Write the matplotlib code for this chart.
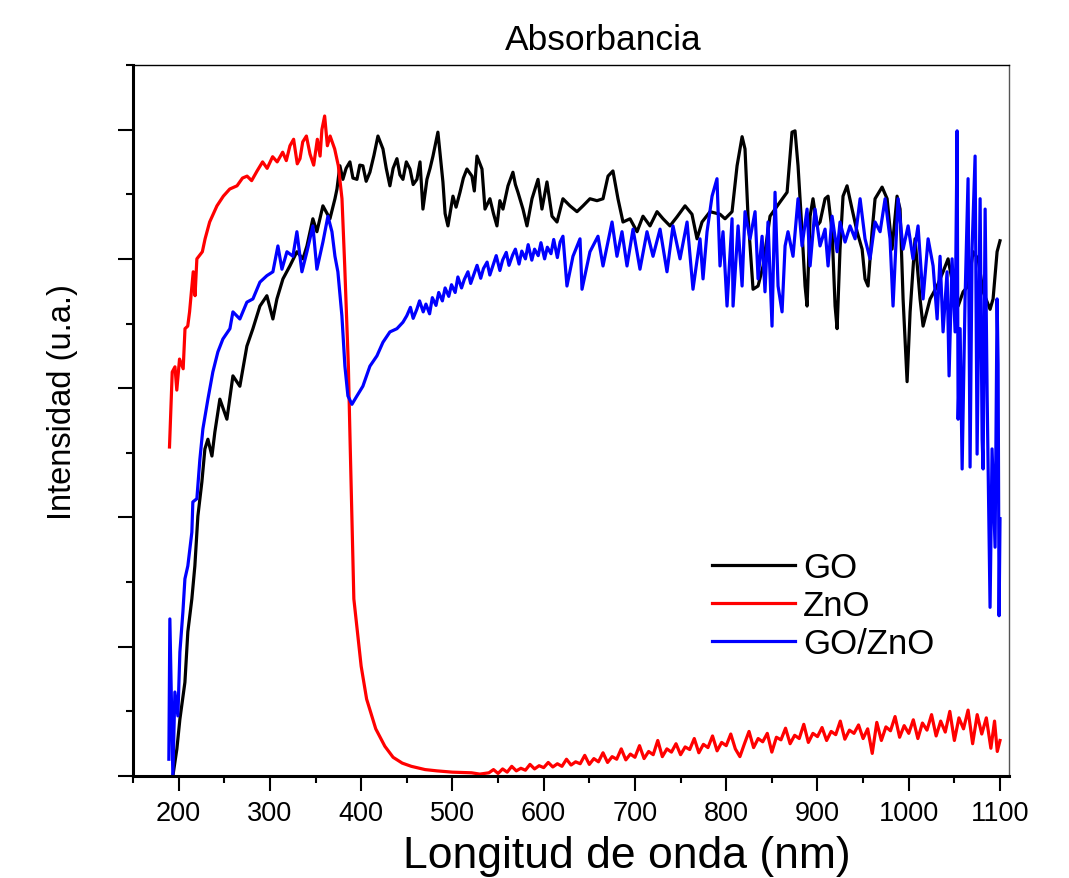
import matplotlib
matplotlib.use('Agg')
import matplotlib.pyplot as plt
from matplotlib.ticker import MultipleLocator

plt.rcParams['font.family'] = ['Liberation Sans', 'DejaVu Sans']

# espectros (nm, intensidad normalizada)
go_nm = [193.7, 198.1, 201.4, 206.9, 210.1, 214.5, 217.8, 221.1, 225.5, 228.8, 232.1, 236.5, 239.7, 245.2,
         252.9, 259.5, 267.1, 274.8, 281.4, 289.1, 296.7, 303.3, 307.7, 314.3, 321.9, 329.6, 336.2, 340.6,
         347.1, 351.5, 358.1, 365.8, 371.3, 373.5, 376.7, 380.0, 383.5, 387.7, 391.0, 395.4, 398.5, 401.9,
         405.5, 409.6, 414.0, 418.4, 423.9, 427.5, 431.5, 435.0, 439.2, 442.5, 445.8, 449.5, 453.5, 457.0,
         461.1, 464.5, 467.7, 472.1, 475.5, 478.7, 484.1, 489.6, 492.0, 495.1, 500.6, 504.0, 508.3, 512.0,
         515.9, 521.4, 524.0, 526.9, 532.4, 535.7, 541.1, 545.0, 548.8, 552.0, 555.4, 560.9, 566.3, 569.0,
         571.8, 577.3, 581.7, 587.2, 593.8, 598.1, 603.6, 609.1, 614.6, 621.1, 628.8, 636.5, 643.1, 650.7,
         658.4, 665.0, 670.5, 675.9, 681.4, 686.9, 694.6, 702.3, 708.8, 716.5, 724.2, 730.8, 738.4, 746.1,
         754.9, 762.5, 768.0, 773.5, 782.3, 793.2, 798.7, 806.4, 811.9, 817.4, 820.6, 823.9, 829.4, 834.9,
         840.4, 848.0, 859.0, 866.7, 872.1, 875.4, 878.7, 883.1, 886.4, 888.6, 891.9, 895.1, 899.5, 902.8,
         908.3, 911.6, 916.0, 919.3, 921.5, 924.7, 928.0, 932.4, 937.9, 943.4, 948.9, 952.1, 955.4, 959.8,
         963.1, 970.8, 976.3, 981.7, 987.2, 990.5, 993.8, 998.2, 1001.5, 1006.9, 1012.4, 1015.7, 1023.4,
         1031.1, 1037.6, 1043.1, 1048.6, 1054.1, 1059.6, 1065.0, 1070.5, 1076.0, 1081.5, 1089.1, 1092.4,
         1096.8, 1100.0]
go_int = [0.000, 0.042, 0.088, 0.145, 0.223, 0.274, 0.325, 0.402, 0.455, 0.506, 0.521, 0.495, 0.532, 0.583,
          0.552, 0.619, 0.603, 0.665, 0.692, 0.727, 0.743, 0.707, 0.738, 0.769, 0.789, 0.811, 0.800, 0.820,
          0.862, 0.842, 0.882, 0.862, 0.893, 0.908, 0.944, 0.923, 0.940, 0.950, 0.925, 0.923, 0.945, 0.944,
          0.920, 0.934, 0.960, 0.990, 0.970, 0.940, 0.913, 0.940, 0.955, 0.930, 0.923, 0.950, 0.939, 0.915,
          0.923, 0.950, 0.877, 0.923, 0.940, 0.959, 0.996, 0.919, 0.870, 0.851, 0.897, 0.880, 0.903, 0.925,
          0.939, 0.928, 0.905, 0.959, 0.939, 0.877, 0.893, 0.870, 0.851, 0.890, 0.877, 0.913, 0.934, 0.915,
          0.903, 0.877, 0.851, 0.893, 0.923, 0.877, 0.919, 0.866, 0.857, 0.893, 0.882, 0.873, 0.882, 0.893,
          0.890, 0.893, 0.928, 0.936, 0.893, 0.857, 0.862, 0.842, 0.866, 0.851, 0.873, 0.862, 0.851, 0.865,
          0.882, 0.869, 0.831, 0.857, 0.873, 0.869, 0.862, 0.873, 0.944, 0.989, 0.970, 0.866, 0.753, 0.758,
          0.789, 0.866, 0.888, 0.903, 0.996, 0.998, 0.944, 0.842, 0.758, 0.727, 0.866, 0.893, 0.851, 0.857,
          0.893, 0.897, 0.842, 0.727, 0.692, 0.815, 0.897, 0.913, 0.877, 0.842, 0.815, 0.769, 0.758, 0.842,
          0.893, 0.911, 0.893, 0.815, 0.897, 0.877, 0.738, 0.610, 0.718, 0.831, 0.738, 0.696, 0.738,
          0.758, 0.780, 0.800, 0.758, 0.727, 0.749, 0.758, 0.811, 0.800, 0.749, 0.722, 0.738,
          0.811, 0.828]

zno_nm = [190, 193, 196, 198, 201, 205, 207, 210, 212, 216, 218, 220, 226, 229, 234, 242, 249, 256, 264,
          270, 275, 280, 286, 292, 297, 303, 308, 314, 318, 322, 326, 330, 333, 336, 340, 344, 348, 352,
          355, 357, 360, 363, 366, 371, 375, 379, 382, 386, 388, 392, 400, 406, 416, 426, 435, 445, 455,
          470, 483, 500, 521, 530,
          540, 545, 550, 555, 560, 565, 570, 575, 580, 585, 590, 595, 600, 605, 610, 615, 620, 625, 630,
          635, 640, 645, 650, 655, 660, 665, 670, 675, 680, 685, 690, 695, 700, 705, 710, 715, 720, 725,
          730, 735, 740, 745, 750, 755, 760, 765, 770, 775, 780, 785, 790, 795, 800, 805, 810, 815, 820,
          825, 830, 835, 840, 845, 850, 855, 860, 865, 870, 875, 880, 885, 890, 895, 900, 905, 910, 915,
          920, 925, 930, 935, 940, 945, 950, 955, 960, 965, 970, 975, 980, 985, 990, 995, 1000, 1005,
          1010, 1015, 1020, 1025, 1030, 1035, 1040, 1045, 1050, 1055, 1060, 1065, 1070, 1075, 1080, 1085,
          1090, 1094, 1097, 1100]
zno_int = [0.509, 0.625, 0.633, 0.597, 0.645, 0.630, 0.692, 0.696, 0.718, 0.780, 0.743, 0.800, 0.811, 0.831,
           0.857, 0.882, 0.897, 0.908, 0.913, 0.925, 0.928, 0.921, 0.936, 0.950, 0.940, 0.958, 0.950, 0.965,
           0.952, 0.975, 0.985, 0.947, 0.955, 0.981, 0.990, 0.962, 0.945, 0.985, 0.959, 1.000, 1.021, 0.975,
           0.990, 0.970, 0.944, 0.893, 0.789, 0.634, 0.511, 0.274, 0.170, 0.119, 0.073, 0.046, 0.029, 0.020,
           0.015, 0.010, 0.008, 0.006, 0.005, 0.003,
           0.005, 0.010, 0.004, 0.011, 0.006, 0.015, 0.008, 0.012, 0.009, 0.018, 0.011, 0.016, 0.013, 0.021,
           0.014, 0.019, 0.015, 0.026, 0.017, 0.022, 0.019, 0.032, 0.018, 0.027, 0.022, 0.036, 0.021, 0.030,
           0.026, 0.042, 0.025, 0.034, 0.029, 0.047, 0.027, 0.038, 0.033, 0.055, 0.030, 0.042, 0.037, 0.050,
           0.033, 0.045, 0.041, 0.058, 0.036, 0.049, 0.044, 0.062, 0.039, 0.052, 0.047, 0.065, 0.042, 0.030,
           0.050, 0.069, 0.044, 0.058, 0.053, 0.066, 0.037, 0.060, 0.056, 0.074, 0.050, 0.063, 0.058, 0.080,
           0.052, 0.066, 0.061, 0.075, 0.055, 0.069, 0.064, 0.085, 0.057, 0.071, 0.066, 0.079, 0.058, 0.073,
           0.035, 0.083, 0.055, 0.076, 0.070, 0.092, 0.060, 0.078, 0.066, 0.087, 0.058, 0.082, 0.071, 0.095,
           0.062, 0.085, 0.068, 0.100, 0.055, 0.090, 0.073, 0.102, 0.050, 0.095, 0.065, 0.090, 0.043, 0.085,
           0.038, 0.055]

gozno_nm = [189.3, 190.4, 193.7, 195.9, 199.2, 201.4, 204.7, 206.9, 210.1, 214.5, 215.6, 220.0, 223.3,
            226.6, 232.1, 237.5, 243.0, 248.5, 256.2, 259.5, 267.1, 274.8, 281.4, 289.1, 296.7, 303.3,
            308.8, 313.2, 318.7, 325.2, 329.6, 335.1, 340.6, 347.1, 351.5, 358.1, 363.6, 368.0, 371.3,
            374.5, 378.9, 382.2, 385.5, 389.9, 395.4, 401.9, 409.6, 417.3, 423.9, 431.5, 439.2, 445.8,
            450.0, 454.0, 457.0, 461.0, 464.0, 468.0, 471.0, 475.0, 478.0, 482.0, 485.0, 489.0, 492.0,
            496.0, 499.0, 503.0, 506.0, 510.0, 513.0, 517.0, 520.0, 524.0, 527.0, 531.0, 534.0, 538.0,
            541.0, 545.0, 548.0, 552.0, 555.0, 559.0, 562.0, 566.0, 569.0, 573.0, 576.0, 580.0, 583.0,
            587.0, 590.0, 594.0, 597.0, 601.0, 604.0, 608.0, 611.0, 615.0, 618.0,
            621.1, 625.5, 632.1, 639.8, 642.0, 650.7, 659.5, 665.0,
            674.9, 680.3, 685.8, 691.3, 697.9, 705.5, 713.2, 719.8, 727.5, 735.1, 741.7, 749.4, 757.1,
            763.6, 771.3, 774.6, 779.0, 784.5, 789.9, 793.2, 796.5, 800.9, 806.4, 807.5, 813.0, 817.4,
            820.6, 826.1, 831.6, 834.9, 839.3, 842.5, 845.8, 850.2, 853.5, 856.8, 861.2, 864.5, 867.7,
            873.2, 878.7, 883.1, 888.6, 891.9, 897.3, 902.8, 908.3, 911.6, 916.0, 921.5, 924.7, 930.2,
            935.7, 941.2, 946.7, 952.1, 957.6, 963.1, 968.6, 974.1, 979.5, 982.8, 988.3, 993.8, 999.3,
            1004.7, 1010.2, 1015.7, 1021.2, 1026.7, 1031.1, 1034.3, 1037.6, 1042.0, 1044.2, 1047.5,
            1050.8, 1053.0, 1054.1, 1056.3, 1058.5, 1061.7, 1065.0, 1067.2, 1069.4, 1072.7, 1074.9,
            1078.2, 1080.4, 1081.5, 1083.7, 1085.9, 1089.1, 1091.3, 1094.6, 1096.8, 1097.9, 1099.0, 1100.0]
gozno_int = [0.026, 0.243, 0.000, 0.130, 0.093, 0.192, 0.254, 0.305, 0.325, 0.377, 0.424, 0.429, 0.490,
             0.537, 0.583, 0.625, 0.656, 0.676, 0.692, 0.718, 0.707, 0.733, 0.738, 0.764, 0.774, 0.780,
             0.820, 0.784, 0.811, 0.804, 0.842, 0.780, 0.811, 0.851, 0.784, 0.826, 0.866, 0.842, 0.804,
             0.780, 0.712, 0.634, 0.588, 0.575, 0.588, 0.603, 0.634, 0.650, 0.671, 0.687, 0.692, 0.702,
             0.712, 0.725, 0.708, 0.722, 0.735, 0.718, 0.730, 0.715, 0.740, 0.728, 0.748, 0.735, 0.755,
             0.742, 0.760, 0.748, 0.772, 0.755, 0.768, 0.780, 0.762, 0.778, 0.790, 0.770, 0.785, 0.795,
             0.775, 0.792, 0.805, 0.782, 0.798, 0.810, 0.790, 0.806, 0.815, 0.792, 0.812, 0.800, 0.822,
             0.798, 0.815, 0.805, 0.825, 0.800, 0.818, 0.808, 0.830, 0.802, 0.826,
             0.835, 0.758, 0.804, 0.831, 0.753, 0.811, 0.835, 0.789,
             0.857, 0.804, 0.842, 0.789, 0.846, 0.784, 0.842, 0.804, 0.846, 0.780, 0.851, 0.800, 0.857,
             0.753, 0.831, 0.769, 0.842, 0.897, 0.924, 0.789, 0.842, 0.727, 0.862, 0.727, 0.851, 0.758,
             0.873, 0.831, 0.873, 0.769, 0.835, 0.749, 0.857, 0.696, 0.903, 0.758, 0.718, 0.820, 0.842,
             0.804, 0.893, 0.820, 0.877, 0.789, 0.877, 0.820, 0.846, 0.789, 0.866, 0.811, 0.857, 0.826,
             0.851, 0.831, 0.893, 0.831, 0.800, 0.857, 0.842, 0.893, 0.831, 0.727, 0.893, 0.815, 0.851,
             0.800, 0.851, 0.738, 0.831, 0.789, 0.707, 0.804, 0.687, 0.780, 0.619, 0.800,
             0.687, 0.998, 0.552, 0.692, 0.475, 0.738, 0.924, 0.478, 0.815, 0.959, 0.498,
             0.893, 0.521, 0.475, 0.877, 0.588, 0.261, 0.506, 0.354, 0.738, 0.637, 0.248, 0.398]

fig = plt.figure(figsize=(10.69, 8.79), dpi=100)
ax = fig.add_axes([0.1244, 0.116, 0.8196, 0.809])

ax.plot(go_nm, go_int, color='black', lw=2.3, label='GO')
ax.plot(zno_nm, zno_int, color='#ff0000', lw=2.3, label='ZnO')
ax.plot(gozno_nm, gozno_int, color='#0000ff', lw=2.3, label='GO/ZnO')

ax.set_xlim(150, 1110)
ax.set_ylim(0, 1.1)
ax.xaxis.set_major_locator(MultipleLocator(100))
ax.xaxis.set_minor_locator(MultipleLocator(50))
ax.yaxis.set_major_locator(MultipleLocator(0.2))
ax.yaxis.set_minor_locator(MultipleLocator(0.1))
ax.set_yticklabels([])
ax.tick_params(which='major', direction='out', length=11, width=1.5, labelsize=19.5, pad=6)
ax.tick_params(which='minor', direction='out', length=5, width=1.5)

ax.spines['left'].set_linewidth(2.2)
ax.spines['bottom'].set_linewidth(2.2)
ax.spines['top'].set_linewidth(1)
ax.spines['right'].set_linewidth(1)
ax.spines['right'].set_color('#555555')

fig.text(603/1069, (879-50)/879, 'Absorbancia', fontsize=25.5, ha='center', va='baseline')
fig.text(62/1069, (879-402)/879, 'Intensidad (u.a.)', fontsize=23.5, rotation=90, ha='center', va='center')
fig.text(627/1069, (879-868)/879, 'Longitud de onda (nm)', fontsize=32, ha='center', va='baseline')

ax.legend(loc='upper left', bbox_to_anchor=(712/1069, (879-552)/879), bbox_transform=fig.transFigure,
          frameon=False, fontsize=25, handlelength=2.4, handletextpad=0.23, labelspacing=0.15,
          borderpad=0, borderaxespad=0)

fig.savefig('out.png', dpi=100)
